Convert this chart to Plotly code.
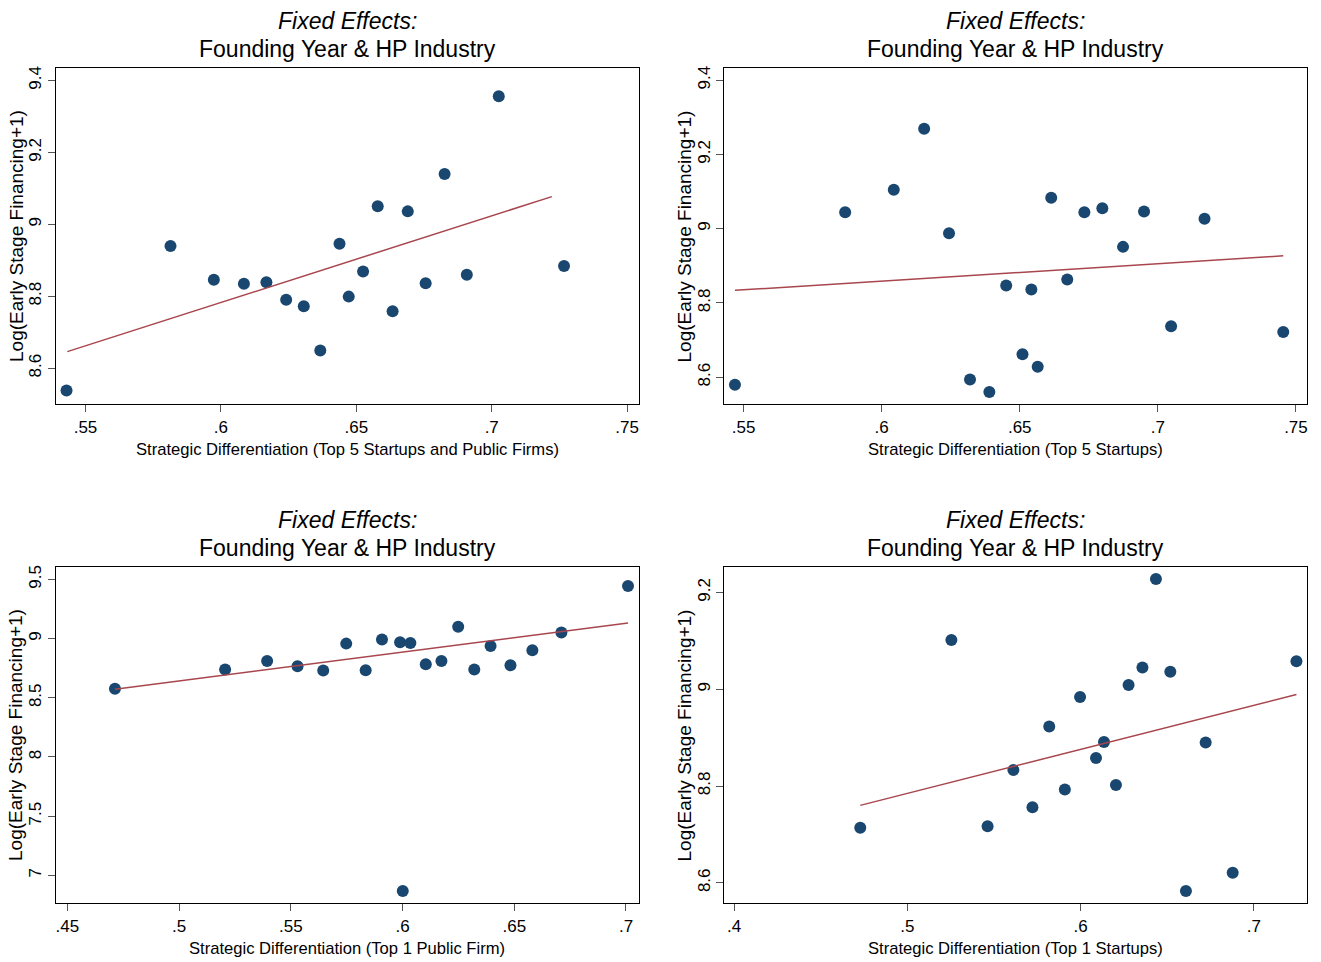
import plotly.graph_objects as go

# ---------------- data ----------------
p1_x = [0.5430, 0.5814, 0.5974, 0.6085, 0.6168, 0.6241, 0.6306, 0.6367, 0.6438, 0.6472,
        0.6525, 0.6579, 0.6634, 0.6690, 0.6756, 0.6826, 0.6908, 0.7026, 0.7267]
p1_y = [8.538, 8.940, 8.846, 8.835, 8.839, 8.790, 8.772, 8.649, 8.946, 8.799,
        8.869, 9.050, 8.758, 9.036, 8.836, 9.140, 8.860, 9.356, 8.884]
p1_fit_x = [0.5433, 0.7222]
p1_fit_y = [8.646, 9.077]

p2_x = [0.5469, 0.5868, 0.6044, 0.6154, 0.6244, 0.6320, 0.6390, 0.6451, 0.6510, 0.6542,
        0.6565, 0.6614, 0.6672, 0.6734, 0.6799, 0.6874, 0.6950, 0.7048, 0.7169, 0.7454]
p2_y = [8.580, 9.044, 9.105, 9.269, 8.988, 8.594, 8.560, 8.847, 8.662, 8.836,
        8.628, 9.083, 8.863, 9.044, 9.055, 8.951, 9.046, 8.737, 9.027, 8.722]
p2_fit_x = [0.5469, 0.7454]
p2_fit_y = [8.834, 8.927]

p3_x = [0.4713, 0.5206, 0.5394, 0.5530, 0.5645, 0.5748, 0.5835, 0.5908, 0.5989, 0.6035,
        0.6001, 0.6104, 0.6174, 0.6249, 0.6321, 0.6394, 0.6483, 0.6581, 0.6711, 0.7009]
p3_y = [8.576, 8.739, 8.812, 8.767, 8.730, 8.958, 8.733, 8.992, 8.969, 8.963,
        6.868, 8.784, 8.812, 9.101, 8.739, 8.938, 8.775, 8.902, 9.051, 9.444]
p3_fit_x = [0.4713, 0.7009]
p3_fit_y = [8.572, 9.132]

p4_x = [0.4728, 0.5254, 0.5463, 0.5612, 0.5722, 0.5819, 0.5909, 0.5997, 0.6089, 0.6135,
        0.6204, 0.6277, 0.6357, 0.6435, 0.6518, 0.6608, 0.6722, 0.6878, 0.7246]
p4_y = [8.714, 9.102, 8.717, 8.833, 8.756, 8.923, 8.793, 8.984, 8.858, 8.891,
        8.802, 9.009, 9.045, 9.228, 9.036, 8.583, 8.890, 8.621, 9.058]
p4_fit_x = [0.4728, 0.7246]
p4_fit_y = [8.760, 8.989]

x_titles = ["Strategic Differentiation (Top 5 Startups and Public Firms)",
            "Strategic Differentiation (Top 5 Startups)",
            "Strategic Differentiation (Top 1 Public Firm)",
            "Strategic Differentiation (Top 1 Startups)"]
y_title = "Log(Early Stage Financing+1)"
title_line1 = "Fixed Effects:"
title_line2 = "Founding Year & HP Industry"

x_ticks = [[0.55, 0.60, 0.65, 0.70, 0.75],
           [0.55, 0.60, 0.65, 0.70, 0.75],
           [0.45, 0.50, 0.55, 0.60, 0.65, 0.70],
           [0.4, 0.5, 0.6, 0.7]]
x_ticktext = [[".55", ".6", ".65", ".7", ".75"],
              [".55", ".6", ".65", ".7", ".75"],
              [".45", ".5", ".55", ".6", ".65", ".7"],
              [".4", ".5", ".6", ".7"]]
y_ticks = [[8.6, 8.8, 9.0, 9.2, 9.4],
           [8.6, 8.8, 9.0, 9.2, 9.4],
           [7.0, 7.5, 8.0, 8.5, 9.0, 9.5],
           [8.6, 8.8, 9.0, 9.2]]
y_ticktext = [["8.6", "8.8", "9", "9.2", "9.4"],
              ["8.6", "8.8", "9", "9.2", "9.4"],
              ["7", "7.5", "8", "8.5", "9", "9.5"],
              ["8.6", "8.8", "9", "9.2"]]

x_ranges = [[0.5391, 0.7542], [0.5431, 0.7540], [0.4449, 0.7056], [0.3944, 0.7307]]
y_ranges = [[8.500, 9.435], [8.5275, 9.433], [6.765, 9.607], [8.558, 9.253]]

# ---------------- layout geometry ----------------
W, H = 1321, 962
boxes = [(56, 639, 66, 403), (725, 1308, 66, 403),
         (56, 639, 566, 903), (725, 1308, 566, 903)]

def px(x):
    return x / W

def py(y):
    return 1 - y / H

MARKER = "#1a476f"
LINE = "#a8464e"
FONT = "Liberation Sans, Arial, Helvetica, sans-serif"

xs = [p1_x, p2_x, p3_x, p4_x]
ys = [p1_y, p2_y, p3_y, p4_y]
fxs = [p1_fit_x, p2_fit_x, p3_fit_x, p4_fit_x]
fys = [p1_fit_y, p2_fit_y, p3_fit_y, p4_fit_y]

fig = go.Figure()
annotations = []
layout_axes = {}

for i in range(4):
    n = "" if i == 0 else str(i + 1)
    xa, ya = "x" + n, "y" + n
    l, r, t, b = boxes[i]
    fig.add_trace(go.Scatter(x=xs[i], y=ys[i], mode="markers", xaxis=xa, yaxis=ya,
                             marker=dict(color=MARKER, size=12, line=dict(width=0)),
                             showlegend=False, hoverinfo="x+y"))
    fig.add_trace(go.Scatter(x=fxs[i], y=fys[i], mode="lines", xaxis=xa, yaxis=ya,
                             line=dict(color=LINE, width=1.5),
                             showlegend=False, hoverinfo="skip"))
    common = dict(showline=True, linecolor="black", linewidth=1.3, mirror=True,
                  showgrid=False, zeroline=False, ticks="outside", ticklen=7,
                  tickwidth=1, tickcolor="#555555",
                  tickfont=dict(family=FONT, size=17, color="black"))
    layout_axes["xaxis" + n] = dict(common, domain=[px(l), px(r)], range=x_ranges[i],
                                    tickmode="array", tickvals=x_ticks[i],
                                    ticktext=x_ticktext[i], anchor=ya,
                                    ticklabelstandoff=0)
    layout_axes["yaxis" + n] = dict(common, domain=[py(b), py(t)], range=y_ranges[i],
                                    tickmode="array", tickvals=y_ticks[i],
                                    ticktext=y_ticktext[i], anchor=xa,
                                    tickangle=-90, ticklabelstandoff=0)
    cx = (l + r) / 2
    cy = (t + b) / 2
    annotations.append(dict(text="<i>" + title_line1 + "</i>", x=px(cx), y=py(t - 47),
                            xref="paper", yref="paper", showarrow=False,
                            xanchor="center", yanchor="middle",
                            font=dict(family=FONT, size=23, color="black")))
    annotations.append(dict(text=title_line2, x=px(cx), y=py(t - 19),
                            xref="paper", yref="paper", showarrow=False,
                            xanchor="center", yanchor="middle",
                            font=dict(family=FONT, size=23, color="black")))
    annotations.append(dict(text=x_titles[i], x=px(cx), y=py(b + 45),
                            xref="paper", yref="paper", showarrow=False,
                            xanchor="center", yanchor="middle",
                            font=dict(family=FONT, size=16.6, color="black")))
    annotations.append(dict(text=y_title, x=px(l - 40), y=py(cy),
                            xref="paper", yref="paper", showarrow=False,
                            xanchor="center", yanchor="middle", textangle=-90,
                            font=dict(family=FONT, size=19, color="black")))

fig.update_layout(width=W, height=H, margin=dict(l=0, r=0, t=0, b=0),
                  paper_bgcolor="white", plot_bgcolor="white",
                  annotations=annotations, **layout_axes)

fig.write_html("out.html", config={"displayModeBar": False},
               post_script="document.body.style.margin='0';document.body.style.overflow='hidden';")
